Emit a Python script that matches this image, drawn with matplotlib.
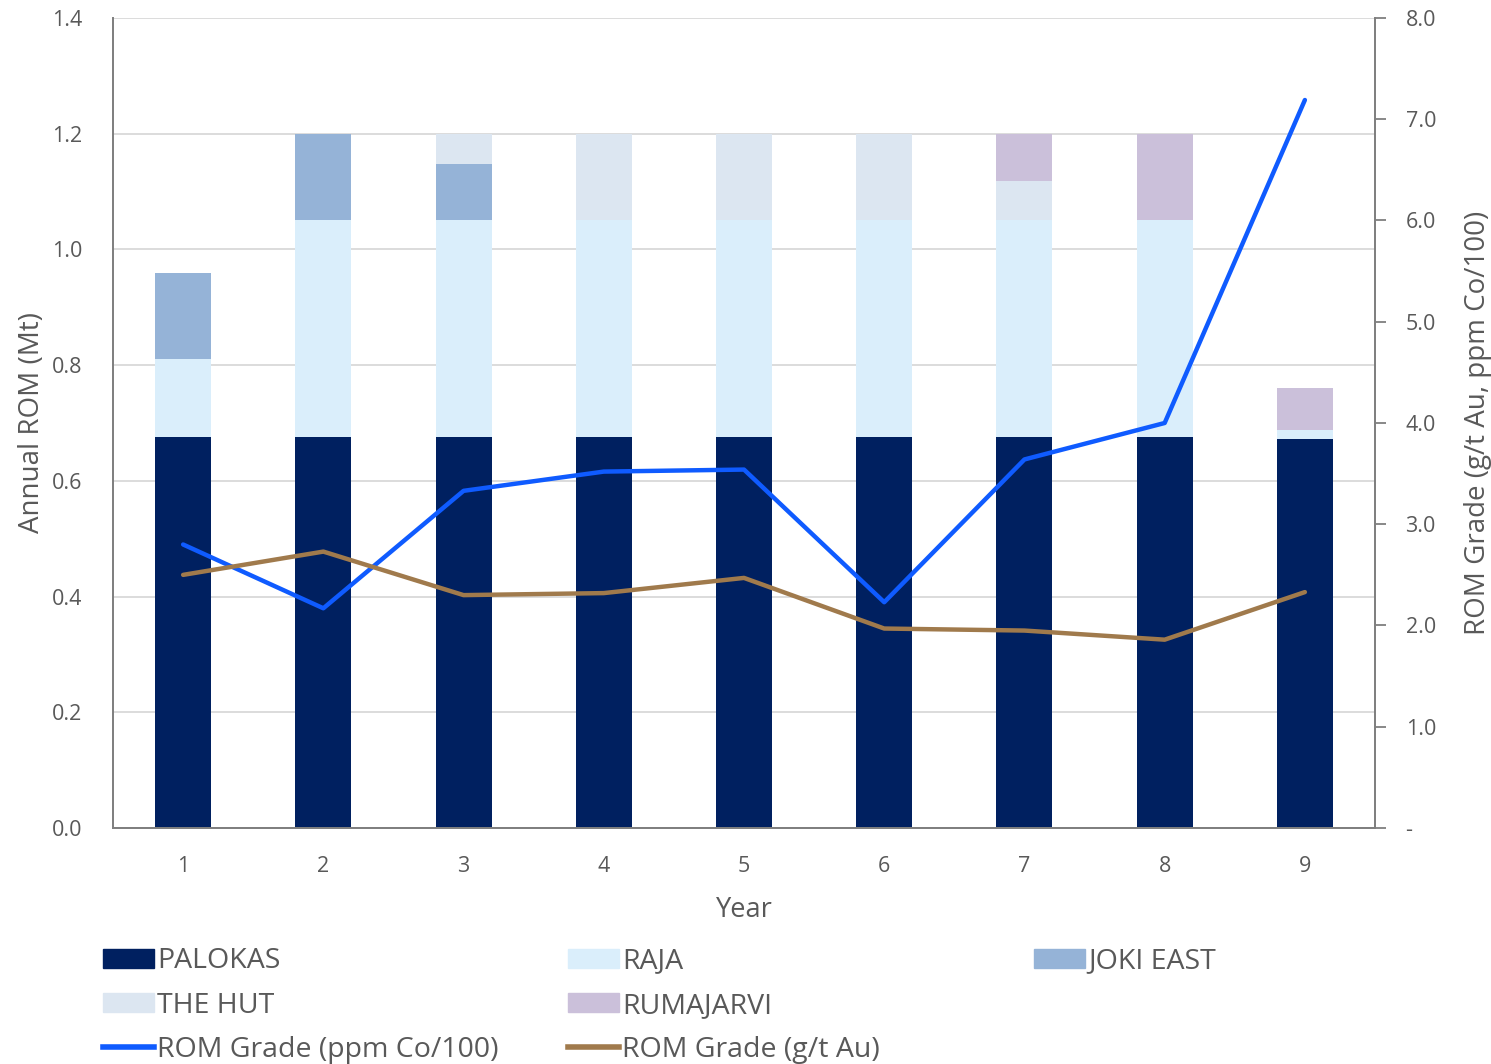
import matplotlib
matplotlib.use("Agg")
from matplotlib import pyplot as plt
from matplotlib.patches import Patch
from matplotlib.lines import Line2D
import numpy as np

years = [1, 2, 3, 4, 5, 6, 7, 8, 9]
palokas = [0.675, 0.675, 0.675, 0.675, 0.675, 0.675, 0.675, 0.675, 0.673]
raja = [0.135, 0.375, 0.375, 0.375, 0.375, 0.375, 0.375, 0.375, 0.015]
joki_east = [0.15, 0.15, 0.098, 0.0, 0.0, 0.0, 0.0, 0.0, 0.0]
the_hut = [0.0, 0.0, 0.052, 0.15, 0.15, 0.15, 0.068, 0.0, 0.0]
rumajarvi = [0.0, 0.0, 0.0, 0.0, 0.0, 0.0, 0.082, 0.15, 0.072]
grade_co = [2.80, 2.17, 3.33, 3.52, 3.54, 2.23, 3.64, 4.00, 7.19]
grade_au = [2.50, 2.73, 2.30, 2.32, 2.47, 1.97, 1.95, 1.86, 2.33]

stack_names = ["PALOKAS", "RAJA", "JOKI EAST", "THE HUT", "RUMAJARVI"]
stack_colors = ["#002060", "#DAEEFB", "#95B3D7", "#DCE6F1", "#CBC0DA"]
co_color = "#0F5BFF"
au_color = "#A07A4C"
text_grey = "#595959"
axis_grey = "#7F7F7F"

plt.rcParams["font.family"] = ["Open Sans", "DejaVu Sans"]

fig = plt.figure(figsize=(14.91, 10.64), dpi=100)
ax = fig.add_axes([0.0758, 0.2218, 0.8464, 0.7613])
ax2 = ax.twinx()

x = np.array(years)
bottom = np.zeros(len(years))
for name, vals, col in zip(stack_names, [palokas, raja, joki_east, the_hut, rumajarvi], stack_colors):
    ax.bar(x, vals, width=0.4, bottom=bottom, color=col, zorder=2)
    bottom += np.array(vals)

ax2.plot(x, grade_co, color=co_color, lw=3.2, solid_capstyle="round", zorder=3)
ax2.plot(x, grade_au, color=au_color, lw=3.2, solid_capstyle="round", zorder=3)

ax.set_xlim(0.5, 9.5)
ax.set_ylim(0, 1.4)
ax.set_yticks(np.arange(0, 1.41, 0.2))
ax.set_yticklabels([f"{v:.1f}" for v in np.arange(0, 1.41, 0.2)])
ax.set_xticks(years)
ax.grid(axis="y", color="#D9D9D9", lw=1.3, zorder=0)
ax.set_axisbelow(True)

ax2.set_ylim(0, 8)
ax2.set_yticks(np.arange(0, 8.1, 1))
ax2.set_yticklabels(["-"] + [f"{v:.1f}" for v in np.arange(1, 8.1, 1)])

for a in (ax, ax2):
    a.spines["top"].set_visible(False)
    for s in ("left", "right", "bottom"):
        a.spines[s].set_color(axis_grey)
        a.spines[s].set_linewidth(1.3)
ax.tick_params(axis="y", length=0, labelsize=15.5, labelcolor=text_grey, pad=22)
ax.tick_params(axis="x", length=0, labelsize=15.5, labelcolor=text_grey, pad=20)
ax2.tick_params(axis="y", length=8, width=1.3, color=axis_grey, labelsize=15.5,
                labelcolor=text_grey, pad=14)

ax.set_xlabel("Year", fontsize=19.5, color=text_grey, labelpad=14)
ax.set_ylabel("Annual ROM (Mt)", fontsize=20, color=text_grey, labelpad=4)
ax2.set_ylabel("ROM Grade (g/t Au, ppm Co/100)", fontsize=20, color=text_grey, labelpad=20)

h = [Patch(color=c) for c in stack_colors]
l_co = Line2D([], [], color=co_color, lw=4)
l_au = Line2D([], [], color=au_color, lw=4)
columns = [
    ([h[0], h[3], l_co], ["PALOKAS", "THE HUT", "ROM Grade (ppm Co/100)"], 103),
    ([h[1], h[4], l_au], ["RAJA", "RUMAJARVI", "ROM Grade (g/t Au)"], 568),
    ([h[2]], ["JOKI EAST"], 1034),
]
for hs, ls, xpx in columns:
    leg = fig.legend(hs, ls, loc="upper left", bbox_to_anchor=(xpx / 1491, 0.1095),
                     frameon=False, fontsize=20.5, handlelength=1.8, handleheight=0.65,
                     handletextpad=0.1, labelspacing=0.57, borderpad=0, borderaxespad=0)
    for t in leg.get_texts():
        t.set_color(text_grey)

fig.savefig("out.png", dpi=100)
